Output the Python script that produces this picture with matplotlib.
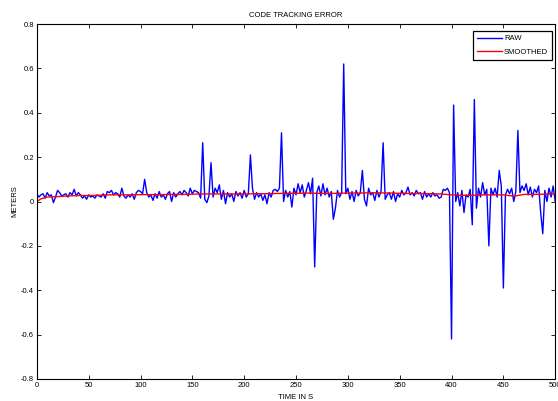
import numpy as np
import matplotlib.pyplot as plt

# raw code tracking error, one sample every 2 s
raw_t = list(range(0, 502, 2))
raw_err = [
    0.035, 0.02, 0.03, 0.035, 0.015, 0.04, 0.025, 0.03, -0.005, 0.02,
    0.05, 0.04, 0.025, 0.03, 0.035, 0.02, 0.04, 0.03, 0.055, 0.025,
    0.04, 0.03, 0.015, 0.025, 0.01, 0.03, 0.02, 0.025, 0.015, 0.03,
    0.025, 0.02, 0.035, 0.015, 0.045, 0.04, 0.05, 0.03, 0.04, 0.035,
    0.02, 0.06, 0.025, 0.015, 0.03, 0.02, 0.035, 0.01, 0.04, 0.05,
    0.045, 0.035, 0.1, 0.04, 0.02, 0.03, 0.005, 0.035, 0.015, 0.045,
    0.02, 0.03, 0.01, 0.035, 0.045, 0.0, 0.04, 0.02, 0.035, 0.045,
    0.03, 0.05, 0.04, 0.025, 0.06, 0.035, 0.05, 0.045, 0.04, 0.015,
    0.265, 0.01, -0.005, 0.025, 0.175, 0.02, 0.06, 0.04, 0.075, 0.01,
    0.05, -0.01, 0.04, 0.02, 0.035, 0.0, 0.045, 0.025, 0.04, 0.015,
    0.05, 0.02, 0.035, 0.21, 0.06, 0.01, 0.04, 0.02, 0.035, 0.005,
    0.03, -0.01, 0.04, 0.02, 0.05, 0.055, 0.045, 0.06, 0.31, 0.0,
    0.05, 0.02, 0.045, -0.025, 0.06, 0.03, 0.08, 0.04, 0.075, 0.02,
    0.05, 0.085, 0.035, 0.105, -0.295, 0.04, 0.07, 0.025, 0.08, 0.03,
    0.06, 0.02, 0.045, -0.08, -0.03, 0.05, 0.02, 0.04, 0.62, 0.035,
    0.06, 0.01, 0.045, 0.0, 0.05, 0.025, 0.04, 0.14, 0.01, -0.02,
    0.06, 0.03, 0.04, 0.005, 0.05, 0.02, 0.045, 0.265, 0.01, 0.03,
    0.04, 0.01, 0.045, 0.0, 0.035, 0.02, 0.05, 0.03, 0.04, 0.065,
    0.03, 0.04, 0.025, 0.05, 0.035, 0.04, 0.01, 0.045, 0.02, 0.035,
    0.02, 0.04, 0.025, 0.03, 0.015, 0.02, 0.055, 0.05, 0.06, 0.04,
    -0.62, 0.435, 0.0, 0.04, -0.02, 0.05, -0.05, 0.03, 0.02, 0.055,
    -0.105, 0.46, -0.03, 0.06, 0.02, 0.085, 0.03, 0.055, -0.2, 0.06,
    0.03, 0.06, 0.02, 0.14, 0.07, -0.39, 0.03, 0.055, 0.035, 0.06,
    0.0, 0.045, 0.32, 0.04, 0.07, 0.05, 0.08, 0.03, 0.065, 0.02,
    0.055, 0.04, 0.07, -0.05, -0.145, 0.05, 0.0, 0.06, 0.02, 0.07,
    0.0,
]

# smoothed estimate
smooth_t = [0, 4, 10, 20, 30, 40, 50, 60, 70, 80, 90, 100, 110, 120, 130, 140,
            150, 160, 170, 180, 190, 200, 210, 220, 230, 240, 250, 260, 270,
            280, 290, 300, 310, 320, 330, 340, 350, 360, 370, 380, 390, 400,
            410, 420, 430, 440, 450, 460, 470, 480, 490, 500]
smooth_err = [0.0, 0.012, 0.02, 0.022, 0.025, 0.027, 0.027, 0.028, 0.03, 0.03,
              0.03, 0.031, 0.031, 0.031, 0.032, 0.032, 0.033, 0.034, 0.034,
              0.034, 0.034, 0.034, 0.035, 0.035, 0.036, 0.037, 0.037, 0.038,
              0.037, 0.036, 0.037, 0.038, 0.038, 0.039, 0.039, 0.038, 0.037,
              0.036, 0.036, 0.035, 0.034, 0.03, 0.028, 0.028, 0.03, 0.03,
              0.03, 0.024, 0.032, 0.032, 0.033, 0.034]

plt.rcParams['font.family'] = ['Liberation Sans', 'DejaVu Sans']

fig = plt.figure(figsize=(5.58, 4.01), dpi=100)
ax = fig.add_axes([0.066, 0.055, 0.929, 0.885])

ax.plot(raw_t, raw_err, color='#0000ff', lw=1.0, label='RAW')
ax.plot(smooth_t, smooth_err, color='#ff0000', lw=1.0, label='SMOOTHED')

ax.set_xlim(0, 500)
ax.set_ylim(-0.8, 0.8)
ax.set_xticks(np.arange(0, 501, 50))
yt = np.round(np.arange(-0.8, 0.81, 0.2), 1)
ax.set_yticks(yt)
ax.set_yticklabels(['0' if v == 0 else f'{v:g}' for v in yt])
ax.tick_params(direction='in', length=3, width=0.6, labelsize=5.5,
               top=True, right=True, pad=2)
for s in ax.spines.values():
    s.set_linewidth(0.8)

ax.set_title('CODE TRACKING ERROR', fontsize=5.5, pad=5)
ax.set_xlabel('TIME IN S', fontsize=5.5, labelpad=3.5)
ax.set_ylabel('METERS', fontsize=5.5, labelpad=2)

leg = ax.legend(loc='upper right', bbox_to_anchor=(0.994, 0.98),
                borderaxespad=0, fontsize=5.5, fancybox=False,
                framealpha=1, edgecolor='black', handlelength=3.3,
                handletextpad=0.3, borderpad=0.5, labelspacing=0.8)
leg.get_frame().set_linewidth(0.9)

fig.savefig('out.png', dpi=100)
